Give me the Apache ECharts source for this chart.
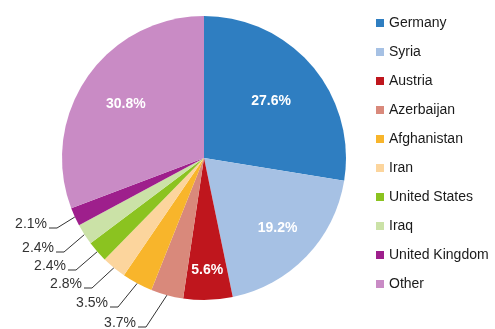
<!DOCTYPE html>
<html>
<head>
<meta charset="utf-8">
<script src="https://cdn.jsdelivr.net/npm/echarts@6/dist/echarts.min.js"></script>
<style>
  html, body { margin: 0; padding: 0; background: #fff; }
  #chart { width: 495px; height: 329px; }
</style>
</head>
<body>
<div id="chart"></div>
<script>
// Share of total by country (percent)
const countries = ['Germany', 'Syria', 'Austria', 'Azerbaijan', 'Afghanistan', 'Iran',
                   'United States', 'Iraq', 'United Kingdom', 'Other'];
const shares = [27.6, 19.2, 5.6, 3.7, 3.5, 2.8, 2.4, 2.4, 2.1, 30.8];
const sliceColors = ['#2f7ec1', '#a6c1e4', '#bf161d', '#d9897b', '#f8b52b', '#fcd59d',
                     '#8bc320', '#cbe2a7', '#9e1f8c', '#c98bc5'];
const insideLabelSlices = ['Germany', 'Syria', 'Austria', 'Other'];

// Layout constants
const CX = 204, CY = 158, RADIUS = 142;
const FONT = '"Liberation Sans", Arial, sans-serif';
// distance of the in-slice labels from the pie centre
const insideLabelRadius = { 'Germany': 88, 'Syria': 102, 'Austria': 112, 'Other': 95 };
// right end / vertical middle of each callout label on the left
const calloutAnchors = {
  'Azerbaijan': [136, 323],
  'Afghanistan': [108, 303],
  'Iran': [82, 284],
  'United States': [66, 266],
  'Iraq': [54, 248],
  'United Kingdom': [47, 224]
};

const pieData = countries.map((name, i) => {
  const inside = insideLabelSlices.includes(name);
  return {
    name: name,
    value: shares[i],
    itemStyle: { color: sliceColors[i] },
    label: inside
      ? { position: 'inside', color: '#fff', fontWeight: 'bold' }
      : { position: 'outside', color: '#333', fontWeight: 'normal' },
    labelLine: { show: !inside }
  };
});

const chart = echarts.init(document.getElementById('chart'), null, { renderer: 'canvas' });

chart.setOption({
  backgroundColor: '#fff',
  animation: false,
  legend: {
    orient: 'vertical',
    left: 376,
    top: 16,
    padding: 0,
    itemGap: 15,
    itemWidth: 8,
    itemHeight: 8,
    icon: 'rect',
    data: countries,
    textStyle: { fontFamily: FONT, fontSize: 14, color: '#1a1a1a' }
  },
  series: [{
    type: 'pie',
    center: [CX, CY],
    radius: [0, RADIUS],
    startAngle: 90,
    clockwise: true,
    avoidLabelOverlap: false,
    data: pieData,
    label: {
      show: true,
      fontFamily: FONT,
      fontSize: 14,
      formatter: p => p.value.toFixed(1) + '%'
    },
    labelLine: {
      show: true,
      length: 10,
      length2: 10,
      lineStyle: { color: '#333', width: 1 }
    },
    labelLayout: function (params) {
      const name = countries[params.dataIndex];
      if (insideLabelSlices.includes(name)) {
        const r = params.labelRect;
        const mx = r.x + r.width / 2 - CX;
        const my = r.y + r.height / 2 - CY;
        const len = Math.sqrt(mx * mx + my * my) || 1;
        const d = insideLabelRadius[name];
        return {
          x: CX + mx / len * d,
          y: CY + my / len * d,
          align: 'center',
          verticalAlign: 'middle'
        };
      }
      const a = calloutAnchors[name];
      const pts = params.labelLinePoints;
      const start = pts ? [pts[0][0], pts[0][1]] : [a[0] + 20, a[1] - 10];
      return {
        x: a[0],
        y: a[1],
        align: 'right',
        verticalAlign: 'middle',
        labelLinePoints: [start, [a[0] + 10, a[1] + 4], [a[0] + 2, a[1] + 4]]
      };
    }
  }]
});
</script>
</body>
</html>
